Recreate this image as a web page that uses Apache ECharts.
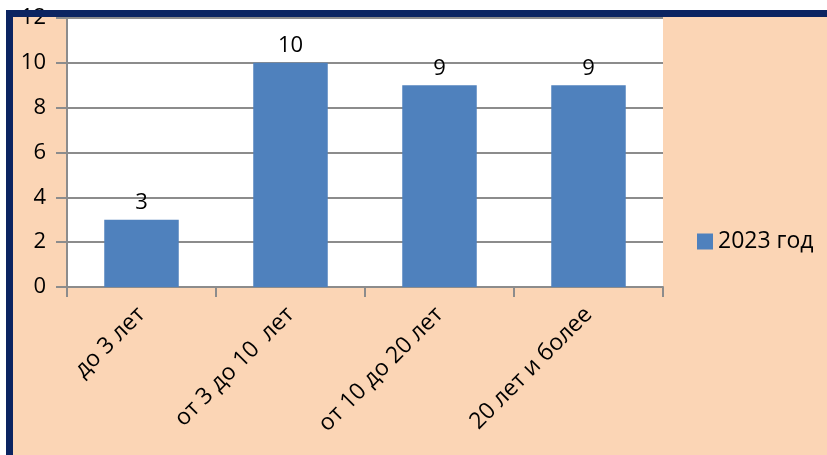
<!DOCTYPE html>
<html>
<head>
<meta charset="utf-8">
<script src="https://cdn.jsdelivr.net/npm/echarts@6/dist/echarts.min.js"></script>
<style>
  html, body { margin: 0; padding: 0; background: #ffffff; }
  #bg { position: absolute; left: 6px; top: 10px; width: 821px; height: 445px; background: #FBD5B5; }
  #chart { position: absolute; left: 0; top: 0; width: 827px; height: 455px; }
  .edge { position: absolute; background: #0B2461; z-index: 5; }
</style>
</head>
<body>
<div id="bg"></div>
<div id="chart"></div>
<div class="edge" style="left:6px;top:10px;width:821px;height:7px"></div>
<div class="edge" style="left:6px;top:10px;width:7px;height:445px"></div>
<script>
// стаж работы
var categories = ['до 3 лет', 'от 3 до 10  лет', 'от 10 до 20 лет', '20 лет и более'];
var values2023 = [3, 10, 9, 9];
var seriesName = '2023 год';
var yMin = 0, yMax = 12, yStep = 2;

var gridColor = '#8C8C8C';
var barColor = '#4F81BD';
var font = '"Open Sans", "Noto Sans", sans-serif';

var myChart = echarts.init(document.getElementById('chart'));
myChart.setOption({
    animation: false,
    textStyle: { fontFamily: font },
    grid: {
        left: 67, right: 164, top: 18, bottom: 168,
        show: true, backgroundColor: '#ffffff', borderWidth: 0
    },
    legend: {
        data: [seriesName],
        orient: 'vertical',
        left: 692, top: 225,
        itemWidth: 16, itemHeight: 16,
        icon: 'rect',
        textStyle: { fontSize: 23, color: '#000', fontFamily: font }
    },
    xAxis: {
        type: 'category',
        data: categories,
        axisLine: { lineStyle: { color: gridColor, width: 2 } },
        axisTick: { show: true, length: 10, lineStyle: { color: gridColor, width: 2 } },
        axisLabel: {
            rotate: 45, margin: 24, interval: 0,
            fontSize: 23, color: '#000', fontFamily: font
        }
    },
    yAxis: {
        type: 'value',
        min: yMin, max: yMax, interval: yStep,
        axisLine: { show: true, lineStyle: { color: gridColor, width: 2 } },
        axisTick: { show: true, inside: false, length: 11, lineStyle: { color: gridColor, width: 2 } },
        axisLabel: { margin: 21, fontSize: 22, color: '#000', fontFamily: font },
        splitLine: { lineStyle: { color: gridColor, width: 2 } }
    },
    series: [{
        name: seriesName,
        type: 'bar',
        barWidth: '50%',
        data: values2023,
        itemStyle: { color: barColor },
        label: {
            show: true, position: 'top', distance: 6,
            fontSize: 22, color: '#000', fontFamily: font
        }
    }]
});
</script>
</body>
</html>
